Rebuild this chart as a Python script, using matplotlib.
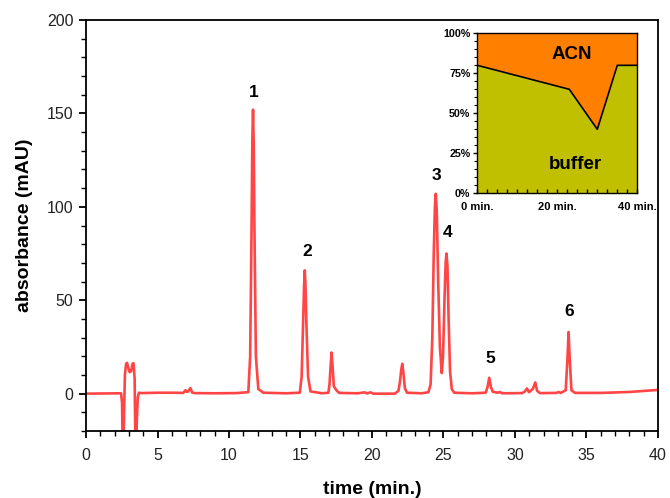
import matplotlib
matplotlib.use("Agg")
import matplotlib.pyplot as plt
from matplotlib.ticker import MultipleLocator, FixedLocator

plt.rcParams['font.family'] = ['Liberation Sans', 'DejaVu Sans']

# chromatogram trace (time in min, absorbance in mAU)
time = [0.0, 2.45, 2.52, 2.58, 2.66, 2.72, 2.8, 2.87, 2.95, 3.05, 3.15, 3.25, 3.32, 3.4,
        3.47, 3.55, 3.62, 3.7, 3.9, 5.0, 6.0, 6.8, 6.95, 7.05, 7.15, 7.3, 7.42, 7.6,
        9.0, 10.5, 11.35, 11.48, 11.58, 11.63, 11.68, 11.73, 11.78, 11.88, 12.05, 12.4,
        14.0, 14.95, 15.08, 15.19, 15.25, 15.3, 15.35, 15.41, 15.53, 15.7,
        16.5, 16.95, 17.03, 17.1, 17.17, 17.25, 17.33, 17.45, 17.55, 17.7,
        19.0, 19.5, 19.65, 19.9, 20.1, 21.6, 21.85, 21.95, 22.05, 22.12, 22.2, 22.3, 22.45,
        23.5, 23.95, 24.1, 24.22, 24.32, 24.4, 24.46, 24.53, 24.63, 24.75, 24.88,
        24.97, 25.07, 25.15, 25.21, 25.28, 25.36, 25.46, 25.58, 25.75,
        27.0, 27.95, 28.08, 28.2, 28.32, 28.45, 28.8, 28.95, 29.1,
        30.5, 30.7, 30.84, 30.98, 31.25, 31.42, 31.55, 31.75,
        32.9, 33.05, 33.2, 33.55, 33.68, 33.75, 33.82, 33.95, 34.2, 36.0, 38.0, 40.0]
absorbance = [0.0, 0.2, -5, -40, -10, 10, 16, 16.5, 14, 11.5, 12, 16, 16.3, 8,
              -40, -15, -2, 0.5, 0.3, 0.5, 0.5, 0.4, 1.8, 1.0, 1.2, 3.0, 0.6, 0.3,
              0.2, 0.3, 0.8, 20, 90, 135, 152, 133, 88, 20, 2.5, 0.5,
              0.2, 0.5, 9, 40, 58, 66, 58, 38, 9, 1.2,
              0.2, 0.5, 5, 14, 22, 14, 4, 2.5, 1.5, 0.4,
              0.2, 0.7, 0.1, 0.7, 0.0, 0.0, 1.5, 6, 13, 16, 11, 3, 0.5,
              0.2, 0.8, 5, 30, 75, 100, 107, 98, 60, 25, 11,
              20, 50, 70, 75, 68, 40, 12, 2.5, 0.5,
              0.2, 0.5, 3.5, 8.5, 3.5, 1, 0.5, 0.9, 0.2,
              0.3, 1.2, 2.8, 0.8, 2.5, 6, 1.5, 0.3,
              0.4, 0.9, 0.4, 1.8, 20, 33, 20, 1.8, 0.4, 0.4, 0.9, 2.0]

# peak labels
peak_names = ['1', '2', '3', '4', '5', '6']
peak_x = [11.75, 15.45, 24.5, 25.3, 28.25, 33.8]
peak_y = [161, 76, 117, 86, 19, 44]

# gradient program for inset (buffer %)
grad_time = [0, 23, 30, 35, 40]
grad_buffer = [80, 65, 40, 80, 80]

fig = plt.figure(figsize=(6.7, 4.98), dpi=100)
ax = fig.add_axes([0.1284, 0.1345, 0.8536, 0.8253])

ax.plot(time, absorbance, color='#ff4545', lw=1.9, solid_joinstyle='round')
ax.set_xlim(0, 40)
ax.set_ylim(-20, 200)
ax.xaxis.set_major_locator(MultipleLocator(5))
ax.xaxis.set_minor_locator(MultipleLocator(1))
ax.yaxis.set_major_locator(MultipleLocator(50))
ax.yaxis.set_minor_locator(MultipleLocator(10))
ax.tick_params(which='major', direction='out', length=5, width=1.3, labelsize=11.5,
               labelcolor='#222222')
ax.tick_params(axis='x', which='major', pad=7)
ax.tick_params(axis='y', which='major', pad=4)
ax.tick_params(which='minor', direction='out', length=3.5, width=1.0)
for sp in ax.spines.values():
    sp.set_linewidth(1.3)
ax.set_xlabel('time (min.)', fontsize=14, fontweight='bold', labelpad=13)
ax.set_ylabel('absorbance (mAU)', fontsize=14, fontweight='bold', labelpad=10)

for name, x, y in zip(peak_names, peak_x, peak_y):
    ax.text(x, y, name, ha='center', va='center', fontsize=12.5, fontweight='bold')

# inset with gradient
ins = fig.add_axes([0.7124, 0.6118, 0.2388, 0.3213])
ins.fill_between(grad_time, grad_buffer, 100, color='#ff8000', lw=0)
ins.fill_between(grad_time, 0, grad_buffer, color='#c0c000', lw=0)
ins.plot(grad_time, grad_buffer, color='black', lw=1.2)
ins.set_xlim(0, 40)
ins.set_ylim(0, 100)
ins.xaxis.set_major_locator(FixedLocator([0, 20, 40]))
ins.xaxis.set_minor_locator(MultipleLocator(2.5))
ins.yaxis.set_major_locator(FixedLocator([0, 25, 50, 75, 100]))
ins.yaxis.set_minor_locator(MultipleLocator(5))
ins.set_xticklabels(['0 min.', '20 min.', '40 min.'], fontsize=8, fontweight='bold')
ins.set_yticklabels(['0%', '25%', '50%', '75%', '100%'], fontsize=7.7, fontweight='bold')
ins.tick_params(axis='x', which='both', direction='in', length=3, width=1, pad=6)
ins.tick_params(axis='y', which='major', direction='out', length=3, width=1, pad=2)
ins.tick_params(axis='y', which='minor', direction='out', length=2, width=0.8)
for sp in ins.spines.values():
    sp.set_linewidth(1.0)
ins.text(23.6, 86.5, 'ACN', ha='center', va='center', fontsize=13.5, fontweight='bold')
ins.text(24.6, 18, 'buffer', ha='center', va='center', fontsize=13.5, fontweight='bold')

fig.savefig('out.png', dpi=100)
